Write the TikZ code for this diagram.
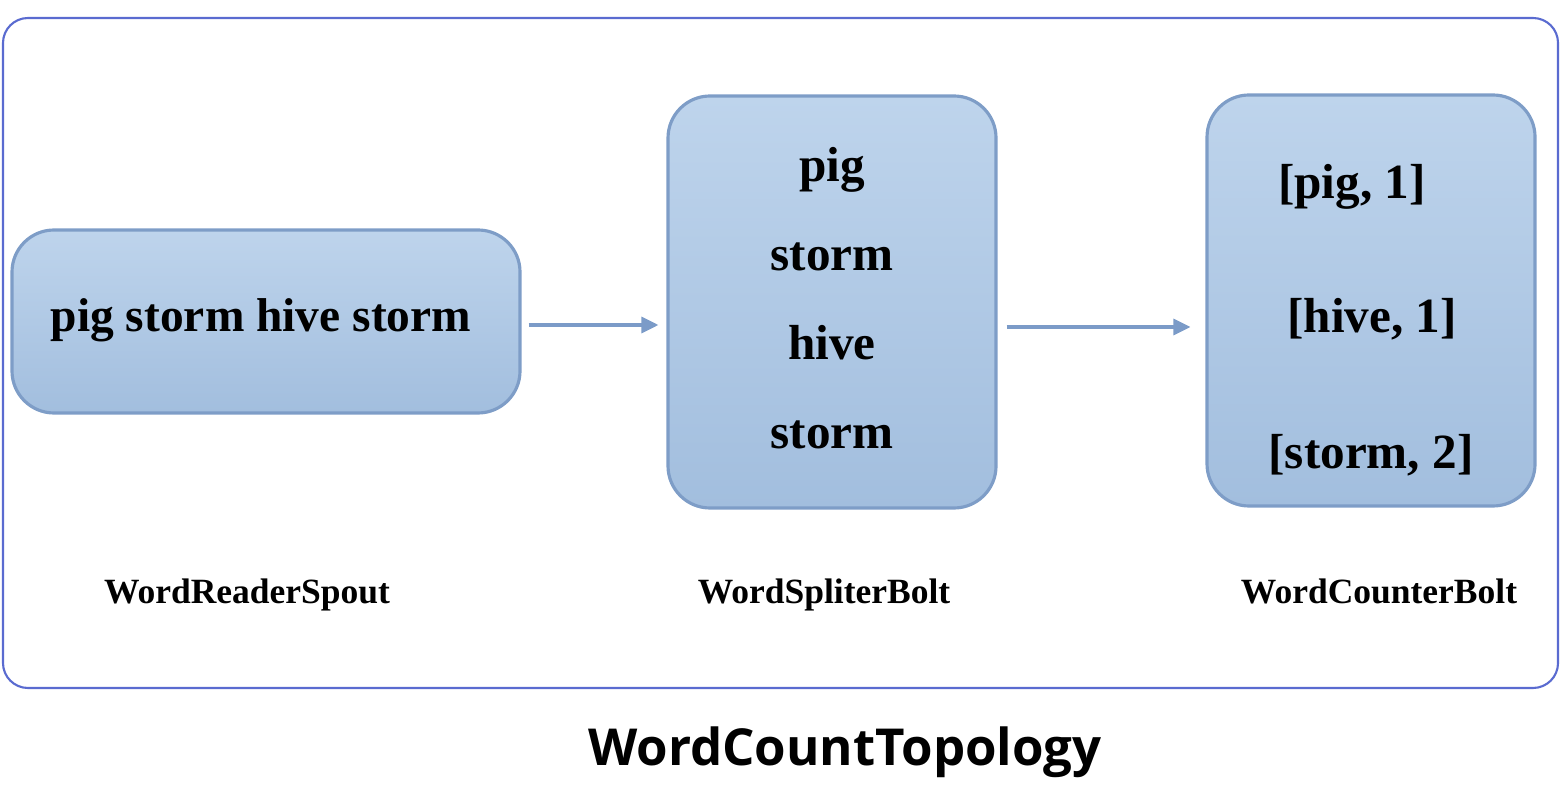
\documentclass[tikz,border=0pt]{standalone}
\usepackage{fontspec}
\setmainfont{Liberation Serif}
\newfontfamily\titlefont{Open Sans}
\usetikzlibrary{arrows.meta,shadings}

\definecolor{boxtop}{HTML}{BED4EC}
\definecolor{boxbot}{HTML}{A2BEDE}
\definecolor{boxline}{HTML}{7E9DC7}
\definecolor{flowcol}{HTML}{7B9BC8}
\definecolor{framecol}{HTML}{5A6BD0}

\tikzset{
    block/.style={draw=boxline, line width=0.9pt, rounded corners=0.42cm, top color=boxtop, bottom color=boxbot, inner sep=0pt},
    word/.style={anchor=base, font=\fontsize{14}{16}\selectfont\bfseries},
    tag/.style={anchor=base, font=\fontsize{10.1}{12}\selectfont\bfseries},
    flow/.style={draw=flowcol, line width=0.9pt, -{Triangle[length=0.17cm,width=0.16cm]}}
}

\begin{document}
\begin{tikzpicture}
            \useasboundingbox (0,0) rectangle (15.6,7.88);
            \draw[framecol, line width=0.6pt, rounded corners=0.25cm] (0.03,7.70) rectangle (15.58,1.00);

            \node[block, minimum width=5.08cm, minimum height=1.83cm] (spout) at (2.66,4.665) {};
            \node[block, minimum width=3.28cm, minimum height=4.12cm] (split) at (8.32,4.86) {};
            \node[block, minimum width=3.28cm, minimum height=4.11cm] (count) at (13.71,4.875) {};

            \node[word, font=\fontsize{13.5}{16}\selectfont\bfseries] (line) at (2.61,4.56) {pig storm hive storm};

            \node[word] (w1) at (8.32,6.06) {pig};
            \node[word] (w2) at (8.32,5.17) {storm};
            \node[word] (w3) at (8.32,4.28) {hive};
            \node[word] (w4) at (8.32,3.39) {storm};

            \node[word] (c1) at (13.52,5.89) {[pig, 1]};
            \node[word] (c2) at (13.72,4.55) {[hive, 1]};
            \node[word] (c3) at (13.71,3.20) {[storm, 2]};

            \draw[flow, shorten <=0.07cm, shorten >=0.08cm] ([yshift=-0.035cm]spout.east) -- ([yshift=-0.035cm]spout.east -| split.west);
            \draw[flow, shorten <=0.09cm, shorten >=0.15cm] ([yshift=-0.25cm]split.east) -- ([yshift=-0.25cm]split.east -| count.west);

            \node[tag] (spoutname) at (2.47,1.85) {WordReaderSpout};
            \node[tag] (splitname) at (8.24,1.85) {WordSpliterBolt};
            \node[tag] (countname) at (13.79,1.85) {WordCounterBolt};

            \node[anchor=base, font=\titlefont\fontsize{14.5}{17}\selectfont\bfseries] (title) at (8.45,0.23) {WordCountTopology};
        \end{tikzpicture}
\end{document}
